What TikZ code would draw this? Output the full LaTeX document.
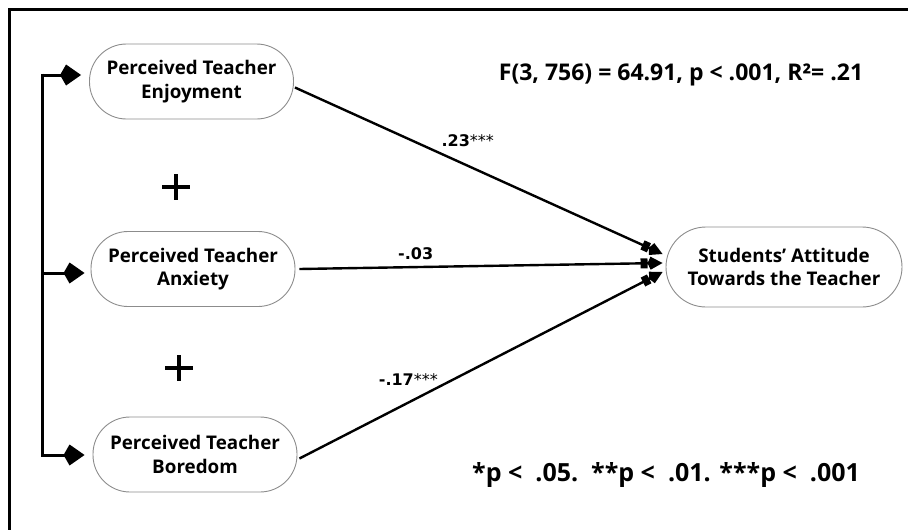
\documentclass[tikz,border=0pt]{standalone}
\usepackage{fontspec}
\setmainfont{Open Sans}
\newfontfamily\labfont{DejaVu Sans}
\usetikzlibrary{arrows.meta,calc}
\begin{document}
\begin{tikzpicture}[x=1pt,y=-1pt,
  box/.style={rectangle, rounded corners=37pt, draw=black!45, line width=0.9pt,
    minimum width=204pt, minimum height=75pt, align=center, inner sep=0pt,
    font=\fontsize{18.8}{23.5}\selectfont\bfseries},
  feed/.style={line width=3pt, -{Kite[length=21pt,width=21pt,inset=6pt]}},
  pathline/.style={line width=2.4pt, -{Rectangle[length=7pt,width=10pt]Kite[length=15pt,width=13pt,inset=3pt]}},
  lab/.style={font=\labfont\bfseries\fontsize{16}{18}\selectfont, inner sep=1pt},
  plus/.style={line width=4.2pt}
]
\useasboundingbox (0,0) rectangle (908,530);
% frame (cropped)
\draw[line width=2.5pt] (9.5,531) -- (9.5,9.5) -- (909,9.5);

\node[box] (enj) at (191.5,81.5) {Perceived Teacher\\Enjoyment};
\node[box] (anx) at (193,269) {Perceived Teacher\\Anxiety};
\node[box] (bor) at (195,454.5) {Perceived Teacher\\Boredom};
\node[box, minimum width=236pt, minimum height=80pt, rounded corners=40pt] (stu) at (784,267) {Students’ Attitude\\Towards the Teacher};

% left bracket
\coordinate (ct) at (42,75);
\coordinate (cm) at (42,273);
\coordinate (cb) at (42,455);
\draw[line width=3pt] ($(ct)+(0,-1.5)$) -- ($(cb)+(0,1.5)$);
\draw[feed] (ct) -- ($(enj.west)+(-8,-6.5)$);
\draw[feed] (cm) -- ($(anx.west)+(-6,4)$);
\draw[feed] (cb) -- ($(bor.west)+(-8,0.5)$);

% paths
\draw[pathline] ($(enj.east)+(1,6)$) -- node[pos=0.47, above=17pt, lab] {.23{\mdseries***}} ($(stu.west)+(-3,-13)$);
\draw[pathline] ($(anx.east)+(4,0)$) -- node[pos=0.32, above=5pt, lab] {-.03} ($(stu.west)+(-3,-4)$);
\draw[pathline] ($(bor.east)+(2,4)$) -- node[pos=0.3, above=15pt, lab] {-.17{\mdseries***}} ($(stu.west)+(-3,5)$);

% plus signs
\draw[plus] (162,187) -- (190,187) (176,174) -- (176,200);
\draw[plus] (165,368) -- (193,368) (179,355) -- (179,381);

% statistics
\node[font=\fontsize{23}{27}\selectfont\bfseries] (stat) at (681,75) {F(3, 756) = 64.91, p < .001, R²= .21};
\node[font=\fontsize{25}{30}\selectfont\bfseries] (note) at (666,475) {*p <\ \ .05.\ \ **p <\ \ .01. ***p <\ \ .001};
\end{tikzpicture}
\end{document}
